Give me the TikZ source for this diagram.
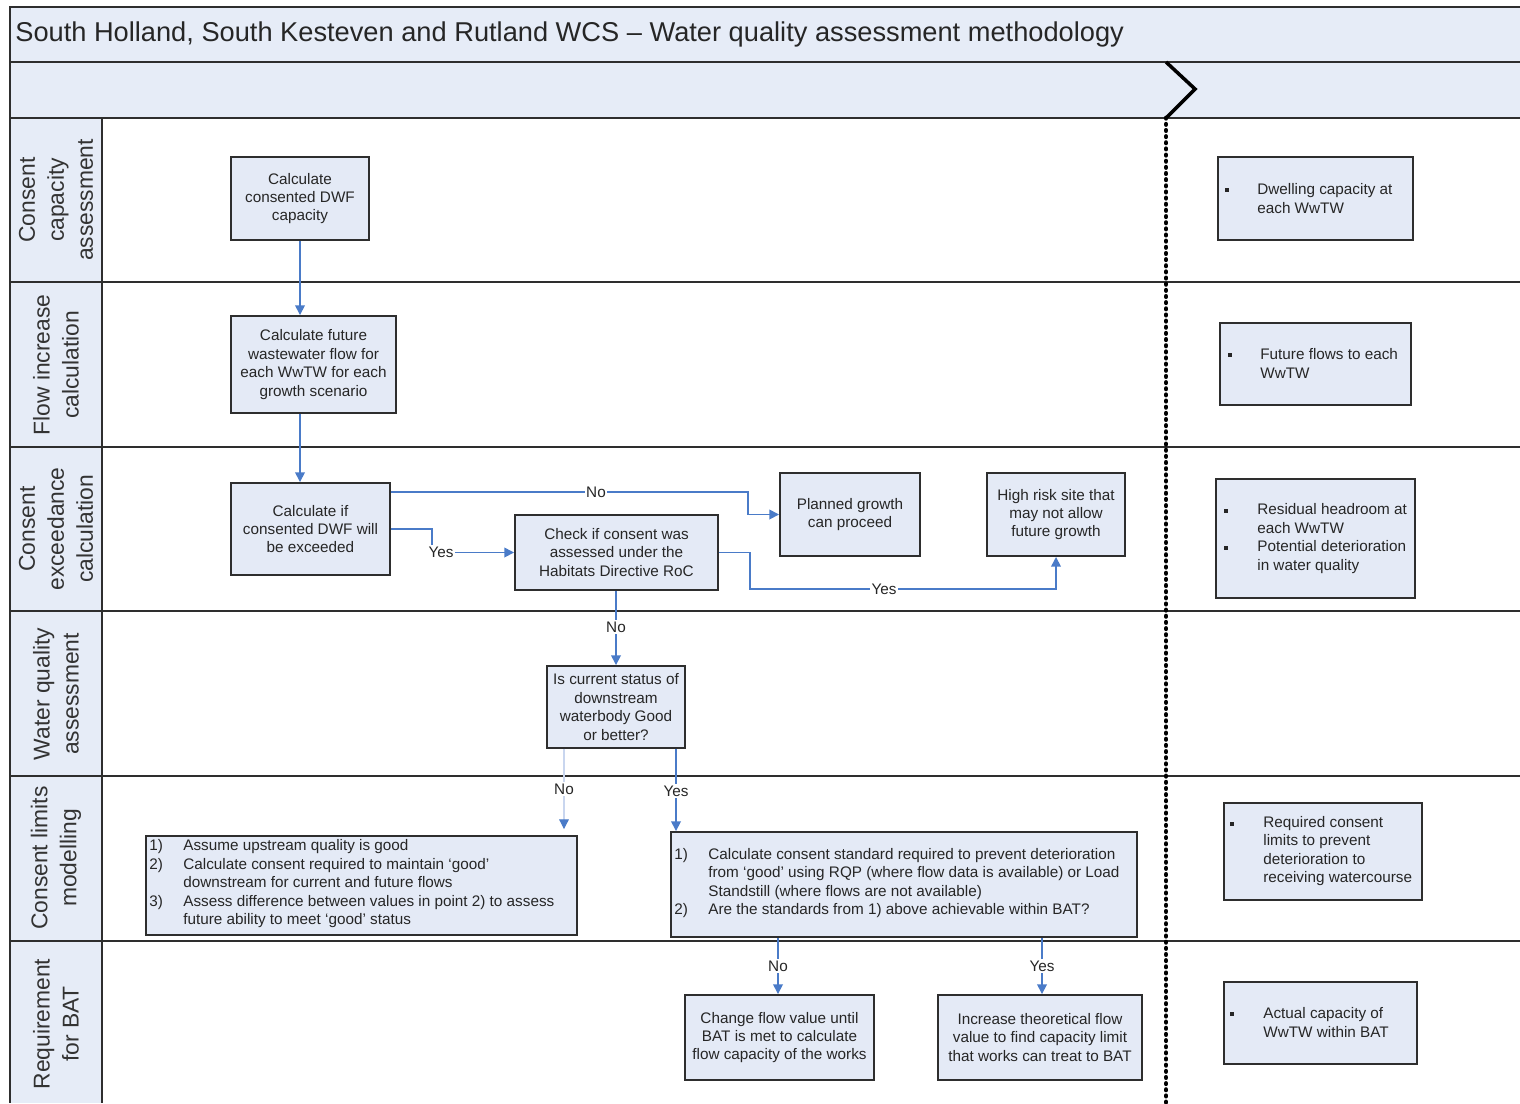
\documentclass[tikz,border=0pt]{standalone}
\usepackage{fontspec}
\setmainfont{Liberation Sans}
\usetikzlibrary{arrows.meta}
\definecolor{bandfill}{HTML}{E6ECF7}
\definecolor{boxfill}{HTML}{E4EAF6}
\definecolor{flowblue}{HTML}{4A7BC8}
\definecolor{faintblue}{HTML}{C9D6EF}
\definecolor{framegray}{HTML}{2E2E2E}
\newcommand{\pxlen}{0.02cm}
\begin{document}
\begin{tikzpicture}[x=0.02cm,y=-0.02cm,
  boxtext/.style={font=\fontsize{8.7}{10.5}\selectfont, text=black!85},
  procbox/.style={draw=framegray, line width=1.1pt, fill=boxfill, align=center, inner sep=2pt, boxtext},
  frameline/.style={draw=framegray, line width=1.1pt},
  flow/.style={draw=flowblue, line width=0.9pt, -{Triangle[length=5.5pt,width=5.5pt]}},
  faintflow/.style={draw=faintblue, line width=0.6pt, -{Triangle[length=5.5pt,width=5.5pt,color=flowblue]}},
  flowlabel/.style={fill=white, inner sep=0.8pt, boxtext},
  lanelabel/.style={rotate=90, align=center, font=\fontsize{13}{16.5}\selectfont, text=black!80},
  listtext/.style={anchor=west, inner sep=0pt, align=left, boxtext},
  bulletdot/.style={rectangle, fill=black!85, inner sep=0pt, minimum size=0.08cm}
]
\useasboundingbox (0,0) rectangle (1520,1103);
% bands
\fill[bandfill] (10,7) rectangle (1520,118);
\fill[bandfill] (10,118) rectangle (102,1103);
\node[anchor=west, inner sep=0pt, font=\fontsize{15.5}{18}\selectfont, text=black!85] (title) at (15,34) {South Holland, South Kesteven and Rutland WCS – Water quality assessment methodology};
% frame
\draw[frameline] (1520,7) -- (10,7) -- (10,1103);
\draw[frameline] (10,62) -- (1520,62);
\draw[frameline] (10,118) -- (1520,118);
\draw[frameline] (102,118) -- (102,1103);
\foreach \yy in {282,447,611,776,941} {\draw[frameline] (10,\yy) -- (1520,\yy);}
% chevron and phase divider
\coordinate (chevtop) at (1166,62);
\coordinate (chevtip) at (1195,89);
\coordinate (chevbot) at (1166,118);
\coordinate (divend) at (1166,1103);
\draw[line width=2pt, line join=miter] (chevtop) -- (chevtip) -- (chevbot);
\draw[line width=2.7pt, line cap=round, dash pattern=on 0.2pt off 3.3pt] (chevbot) -- (divend);
% lane labels
\node[lanelabel] (lane1) at (56,200) {Consent\\capacity\\assessment};
\node[lanelabel] (lane2) at (56,365) {Flow increase\\calculation};
\node[lanelabel] (lane3) at (56,529) {Consent\\exceedance\\calculation};
\node[lanelabel] (lane4) at (56,694) {Water quality\\assessment};
\node[lanelabel] (lane5) at (56,858) {Consent limits\\modelling};
\node[lanelabel] (lane6) at (56,1024) {Requirement\\for BAT};
% process boxes
\node[procbox, minimum width=138*\pxlen, minimum height=83*\pxlen] (b1) at (300,198.5) {Calculate\\consented DWF\\capacity};
\node[procbox, minimum width=165*\pxlen, minimum height=97*\pxlen] (b2) at (313.5,364.5) {Calculate future\\wastewater flow for\\each WwTW for each\\growth scenario};
\node[procbox, minimum width=159*\pxlen, minimum height=92*\pxlen] (b3) at (310.5,529) {Calculate if\\consented DWF will\\be exceeded};
\node[procbox, minimum width=203*\pxlen, minimum height=75*\pxlen] (b4) at (616.5,552.5) {Check if consent was\\assessed under the\\Habitats Directive RoC};
\node[procbox, minimum width=140*\pxlen, minimum height=83*\pxlen] (b5) at (850,514.5) {Planned growth\\can proceed};
\node[procbox, minimum width=138*\pxlen, minimum height=83*\pxlen] (b6) at (1056,514.5) {High risk site that\\may not allow\\future growth};
\node[procbox, minimum width=138*\pxlen, minimum height=82*\pxlen] (b7) at (616,707) {Is current status of\\downstream\\waterbody Good\\or better?};
\node[procbox, minimum width=431*\pxlen, minimum height=99*\pxlen] (b8) at (361.5,885.5) {};
\node[listtext] (b8t) at (149,884) {\begin{tabular}{@{}p{0.68cm}@{}l@{}}1) & Assume upstream quality is good\\ 2) & Calculate consent required to maintain ‘good’\\ & downstream for current and future flows\\ 3) & Assess difference between values in point 2) to assess\\ & future ability to meet ‘good’ status\end{tabular}};
\node[procbox, minimum width=466*\pxlen, minimum height=105*\pxlen] (b9) at (904,884.5) {};
\node[listtext] (b9t) at (674,883.5) {\begin{tabular}{@{}p{0.68cm}@{}l@{}}1) & Calculate consent standard required to prevent deterioration\\ & from ‘good’ using RQP (where flow data is available) or Load\\ & Standstill (where flows are not available)\\ 2) & Are the standards from 1) above achievable within BAT?\end{tabular}};
\node[procbox, minimum width=189*\pxlen, minimum height=85*\pxlen] (b10) at (779.5,1037.5) {Change flow value until\\BAT is met to calculate\\flow capacity of the works};
\node[procbox, minimum width=204*\pxlen, minimum height=85*\pxlen] (b11) at (1040,1037.5) {Increase theoretical flow\\value to find capacity limit\\that works can treat to BAT};
% output boxes (right column)
\node[procbox, minimum width=195*\pxlen, minimum height=83*\pxlen] (r1) at (1315.5,198.5) {};
\node[bulletdot] (r1b) at (1227,190) {};
\node[listtext] (r1t) at (1257,198.5) {Dwelling capacity at\\each WwTW};
\node[procbox, minimum width=191*\pxlen, minimum height=82*\pxlen] (r2) at (1315.5,364) {};
\node[bulletdot] (r2b) at (1230,355) {};
\node[listtext] (r2t) at (1260,363.5) {Future flows to each\\WwTW};
\node[procbox, minimum width=199*\pxlen, minimum height=119*\pxlen] (r3) at (1315.5,538.5) {};
\node[bulletdot] (r3b1) at (1226,511) {};
\node[bulletdot] (r3b2) at (1226,548) {};
\node[listtext] (r3t) at (1257,538.5) {Residual headroom at\\each WwTW\\Potential deterioration\\in water quality};
\node[procbox, minimum width=198*\pxlen, minimum height=97*\pxlen] (r4) at (1323,851.5) {};
\node[bulletdot] (r4b) at (1232,824) {};
\node[listtext] (r4t) at (1263,851) {Required consent\\limits to prevent\\deterioration to\\receiving watercourse};
\node[procbox, minimum width=193*\pxlen, minimum height=82*\pxlen] (r5) at (1320.5,1023) {};
\node[bulletdot] (r5b) at (1232,1014) {};
\node[listtext] (r5t) at (1263,1022.5) {Actual capacity of\\WwTW within BAT};
% routing coordinates
\coordinate (noy) at (0,492);
\coordinate (nocorner) at (748,492);
\coordinate (yesx) at (432,0);
\coordinate (yes2x) at (750,0);
\coordinate (yes2y) at (0,589);
\coordinate (nox) at (564,0);
\coordinate (yesx2) at (676,0);
\coordinate (nox3) at (778,0);
\coordinate (yesx3) at (1042,0);
% connectors
\draw[flow] (b1.south) -- (b1.south |- b2.north);
\draw[flow] (b1.south |- b2.south) -- (b1.south |- b3.north);
\draw[flow] (b3.east |- noy) -- (nocorner) |- (b5.west);
\node[flowlabel] (lno1) at (596,492) {No};
\draw[flow] (b3.east) -- (yesx |- b3.east) |- (b4.west);
\node[flowlabel] (lyes1) at (441,552) {Yes};
\draw[flow] (b4.east) -- (yes2x |- b4.east) -- (yes2x |- yes2y) -| (b6.south);
\node[flowlabel] (lyes2) at (884,589) {Yes};
\draw[flow] (b4.south -| b7.north) -- (b7.north);
\node[flowlabel] (lno2) at (616,627) {No};
\draw[faintflow, shorten >=0.12cm] (nox |- b7.south) -- (nox |- b8.north);
\node[flowlabel] (lno3) at (564,789) {No};
\draw[flow] (yesx2 |- b7.south) -- (yesx2 |- b9.north);
\node[flowlabel] (lyes3) at (676,791) {Yes};
\draw[flow] (nox3 |- b9.south) -- (nox3 |- b10.north);
\node[flowlabel] (lno4) at (778,966) {No};
\draw[flow] (yesx3 |- b9.south) -- (yesx3 |- b11.north);
\node[flowlabel] (lyes4) at (1042,966) {Yes};
\end{tikzpicture}
\end{document}
